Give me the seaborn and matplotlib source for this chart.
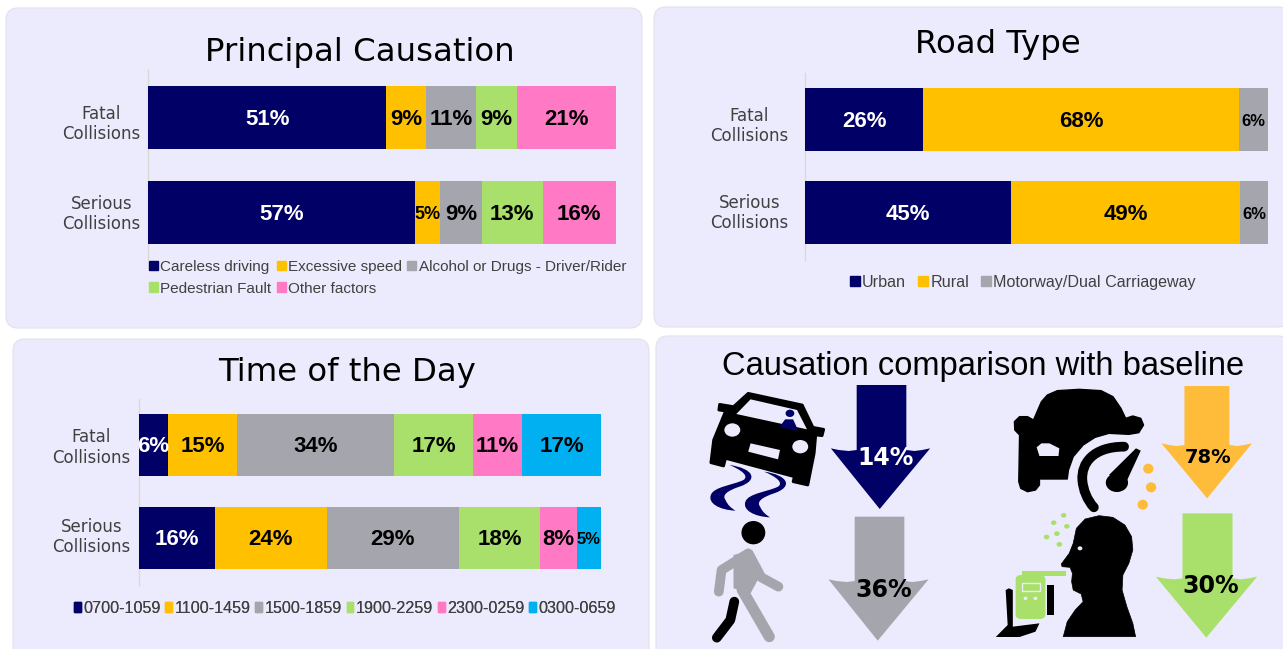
import matplotlib
matplotlib.use("Agg")
import matplotlib.pyplot as plt
import seaborn as sns
import numpy as np
from matplotlib.patches import FancyBboxPatch, Polygon, Circle, Ellipse, PathPatch, Patch, Rectangle
from matplotlib.path import Path
from matplotlib.lines import Line2D
from matplotlib.transforms import ScaledTranslation

sns.set_theme(style="white")
plt.rcParams["font.family"] = ["DejaVu Sans"]

# ---------- data ----------
collision_types = ["Fatal\nCollisions", "Serious\nCollisions"]

cause_names = ["Careless driving", "Excessive speed", "Alcohol or Drugs - Driver/Rider",
               "Pedestrian Fault", "Other factors"]
cause_fatal = [50.9, 8.6, 10.6, 8.8, 21.1]
cause_serious = [57.0, 5.4, 9.0, 12.9, 15.7]
cause_colors = ["#000066", "#FFC000", "#A5A5AD", "#A9E06B", "#FF79C4"]

road_names = ["Urban", "Rural", "Motorway/Dual Carriageway"]
road_fatal = [25.5, 68.2, 6.3]
road_serious = [44.6, 49.4, 6.0]
road_colors = ["#000066", "#FFC000", "#A5A5AD"]

time_names = ["0700-1059", "1100-1459", "1500-1859", "1900-2259", "2300-0259", "0300-0659"]
time_fatal = [6.3, 14.9, 34.0, 17.1, 10.6, 17.1]
time_serious = [16.4, 24.2, 28.6, 17.7, 7.9, 5.2]
time_colors = ["#000066", "#FFC000", "#A5A5AD", "#A9E06B", "#FF79C4", "#00B0F0"]

baseline_labels = ["14%", "78%", "36%", "30%"]
baseline_colors = ["#000066", "#FFBC3A", "#A5A5AD", "#A9E06B"]
baseline_text = ["white", "black", "black", "black"]

PANEL = "#ECEBFD"
W, H = 1283, 649
fig = plt.figure(figsize=(W / 100, H / 100), dpi=100, facecolor="white")

bg = fig.add_axes([0, 0, 1, 1], zorder=0)
bg.set_xlim(0, W)
bg.set_ylim(H, 0)
bg.axis("off")

for (x0, y0, x1, y1) in [(6, 8, 642, 328), (654, 7, 1290, 327), (13, 339, 649, 660), (656, 336, 1290, 660)]:
    bg.add_patch(FancyBboxPatch((x0 + 12, y0 + 12), x1 - x0 - 24, y1 - y0 - 24,
                                boxstyle="round,pad=12,rounding_size=12",
                                fc=PANEL, ec="#E2E2E8", lw=0.8))


def stacked(x0, x1, y0, y1, names, colors, fatal, serious, small_below, small_size,
            title, tx, ty, legend_xy, ncol, order, leg_size, col_space, hlen, tick_pad, tick_dy):
    ax = fig.add_axes([x0 / W, 1 - y1 / H, (x1 - x0) / W, (y1 - y0) / H], zorder=2)
    ax.patch.set_alpha(0)
    rows = np.array([fatal, serious])
    cum = rows.cumsum(axis=1)
    for j in range(len(names) - 1, -1, -1):
        sns.barplot(x=cum[:, j], y=collision_types, order=collision_types, orient="h", color=colors[j],
                    saturation=1, width=0.67, ax=ax, linewidth=0)
    ax.set_xlim(0, 100)
    ax.set_ylim(1.5, -0.5)
    ax.xaxis.set_visible(False)
    for s in ["top", "right", "bottom"]:
        ax.spines[s].set_visible(False)
    ax.spines["left"].set_color("#D9D9D9")
    ax.spines["left"].set_linewidth(1)
    ax.spines["left"].set_zorder(0.5)
    ax.tick_params(axis="y", length=0, pad=tick_pad)
    for t, dy in zip(ax.get_yticklabels(), tick_dy):
        t.set_multialignment("center")
        t.set_fontsize(12)
        t.set_color("#404040")
        t.set_linespacing(1.15)
        t.set_transform(t.get_transform() + ScaledTranslation(0, -dy / 100, fig.dpi_scale_trans))
    for i in range(2):
        left = 0
        for j, v in enumerate(rows[i]):
            fs = small_size if v < small_below else 16
            ax.text(left + v / 2, i + 0.02, f"{round(v)}%", ha="center", va="center",
                    fontsize=fs, fontweight="bold", family="Liberation Sans",
                    color="white" if j == 0 else "black")
            left += v
    bg.text(tx, ty, title, ha="center", va="center", fontsize=23.3, color="black")
    handles = [Patch(color=colors[k], label=names[k]) for k in order]
    leg = bg.legend(handles=handles, ncol=ncol, loc="upper left", bbox_to_anchor=legend_xy,
                    bbox_transform=bg.transData, frameon=False, borderpad=0, borderaxespad=0,
                    prop={"family": "Liberation Sans", "size": leg_size}, labelcolor="#404040",
                    handlelength=hlen, handleheight=0.6, handletextpad=0.15, columnspacing=col_space,
                    labelspacing=0.5)
    bg.add_artist(leg)
    return ax


stacked(148, 616, 70.5, 259.5, cause_names, cause_colors, cause_fatal, cause_serious, 5.6, 13,
        "Principal Causation", 360, 52, (149, 260), 3, [0, 3, 1, 4, 2], 11.0, 0.33, 0.6, 5.4, (3.5, -1))
stacked(805, 1268, 72.5, 259.5, road_names, road_colors, road_fatal, road_serious, 6.4, 12,
        "Road Type", 998, 45, (850, 275), 3, [0, 1, 2], 11.6, 0.75, 0.6, 12, (3.5, -3))
stacked(139, 601, 398.5, 584.5, time_names, time_colors, time_fatal, time_serious, 5.6, 12,
        "Time of the Day", 347, 373, (74, 601), 6, [0, 1, 2, 3, 4, 5], 11.6, 0.3, 0.42, 6, (-0.5, -4))

bg.text(983, 367, "Causation comparison with baseline", ha="center", va="center",
        fontsize=23.5, family="Liberation Sans", color="black")

# ---------- illustration panel, drawn in zoom coordinates of its own region ----------
ic = fig.add_axes([660 / W, 1 - (340 + 309) / H, 623 / W, 309 / H], zorder=3)
ic.set_xlim(0, 1568)
ic.set_ylim(927, 0)
ic.axis("off")


def arrow(sx0, sx1, top, shoulder, hx0, hx1, tipx, tipy, color, label, lx, ly, tc, fs):
    verts = [(sx0, top), (sx1, top), (sx1, shoulder + 5), (sx1 + 20, shoulder + 8), (hx1 - 20, shoulder + 5),
             (hx1, shoulder), (tipx, tipy), (hx0, shoulder), (hx0 + 20, shoulder + 5), (sx0 - 20, shoulder + 8),
             (sx0, shoulder + 5)]
    ic.add_patch(Polygon(verts, closed=True, fc=color, ec="none"))
    ic.text(lx, ly, label, ha="center", va="center", fontsize=fs, fontweight="bold", color=tc)


arrow(495, 620, 135, 325, 430, 680, 553, 507, baseline_colors[0], baseline_labels[0], 568, 355, baseline_text[0], 17)
arrow(1320, 1433, 138, 310, 1262, 1490, 1377, 475, baseline_colors[1], baseline_labels[1], 1380, 352, baseline_text[1], 14)
arrow(490, 615, 530, 718, 424, 676, 548, 902, baseline_colors[2], baseline_labels[2], 562, 750, baseline_text[2], 17)
arrow(1315, 1441, 520, 710, 1248, 1503, 1375, 893, baseline_colors[3], baseline_labels[3], 1387, 737, baseline_text[3], 17)

# tilted car
ic.add_patch(Polygon([(222, 160), (358, 195), (385, 262), (412, 268), (408, 287), (392, 285), (388, 340),
                      (372, 435), (335, 425), (338, 410), (165, 355), (160, 378), (128, 368), (135, 300),
                      (165, 213), (148, 210), (150, 193), (185, 200)], closed=True,
                     fc="black", ec="black", lw=2, joinstyle="round"))
ic.add_patch(Polygon([(228, 178), (345, 210), (370, 268), (192, 222)], closed=True, fc=PANEL, ec="none"))
ic.add_patch(Circle((327, 220), 11, fc="#000066", ec="none"))
ic.add_patch(Polygon([(300, 262), (315, 238), (335, 238), (348, 272)], closed=True, fc="#000066", ec="none"))
ic.add_patch(Circle((182, 270), 20, fc=PANEL, ec="none"))
ic.add_patch(Circle((353, 320), 20, fc=PANEL, ec="none"))
ic.add_patch(Polygon([(228, 310), (302, 330), (297, 358), (222, 335)], closed=True, fc=PANEL, ec="none"))

# skid swirls
swirl = [(175, 375), (235, 385), (250, 420), (200, 440), (170, 452), (155, 465), (165, 480), (170, 495), (180, 505),
         (190, 512), (150, 510), (120, 490), (128, 465), (135, 440), (185, 435), (210, 420), (225, 408), (205, 390),
         (175, 375)]
codes = [Path.MOVETO] + [Path.CURVE4] * 18
for dx, dy in [(0, 0), (87, 20)]:
    ic.add_patch(PathPatch(Path([(x + dx, y + dy) for x, y in swirl], codes), fc="#000066", ec="none"))

# pedestrian
ic.add_patch(Ellipse((235, 578), 60, 70, fc="black", ec="none"))
ic.add_line(Line2D([187, 177, 143], [785, 840, 893], color="black", lw=7, solid_capstyle="round", solid_joinstyle="round"))
ic.add_line(Line2D([222, 155, 148], [640, 690, 755], color="#A5A5AD", lw=7, solid_capstyle="round", solid_joinstyle="round"))
ic.add_line(Line2D([225, 255, 298], [645, 712, 740], color="#A5A5AD", lw=7, solid_capstyle="round", solid_joinstyle="round"))
ic.add_line(Line2D([207, 207, 275], [700, 750, 890], color="#A5A5AD", lw=8, solid_capstyle="round", solid_joinstyle="round"))
ic.add_patch(Polygon([(185, 645), (232, 630), (255, 700), (228, 760), (185, 745)], closed=True, fc="#A5A5AD", ec="none"))

# front car with speedometer
ic.add_patch(Polygon([(960, 185), (975, 165), (1000, 152), (1055, 148), (1110, 152), (1140, 170), (1160, 205), (1172, 235),
                      (1190, 228), (1210, 235), (1217, 255), (1205, 278), (1180, 283), (1130, 280), (1095, 292),
                      (1065, 315), (1040, 350), (1028, 390), (1025, 417), (955, 417), (955, 435), (945, 450),
                      (925, 455), (908, 445), (903, 425), (905, 285), (893, 270), (892, 245), (905, 230),
                      (925, 230), (940, 240)],
                     closed=True, fc="black", ec="black", lw=1, joinstyle="round"))
ic.add_patch(Polygon([(948, 322), (960, 310), (980, 310), (1005, 325), (1003, 348), (955, 348)], closed=True, fc=PANEL, ec="none"))
gauge = [(1168, 320), (1090, 320), (1060, 370), (1063, 420), (1065, 450), (1075, 480), (1092, 502)]
ic.add_patch(PathPatch(Path(gauge, [Path.MOVETO] + [Path.CURVE4] * 6), fc="none", ec="black", lw=7, capstyle="round"))
ic.add_patch(Polygon([(1198, 325), (1210, 332), (1172, 430), (1130, 405)], closed=True, fc="black", ec="none"))
ic.add_patch(Circle((1150, 428), 28, fc="black", ec="none"))
for cx, cy in [(1229, 386), (1236, 442), (1215, 494)]:
    ic.add_patch(Ellipse((cx, cy), 26, 30, fc="#FFBC3A", ec="none"))

# head and breathalyser
ic.add_patch(Polygon([(1105, 527), (1140, 532), (1170, 555), (1187, 590), (1190, 630), (1180, 670), (1165, 705),
                      (1163, 750), (1175, 800), (1190, 850), (1197, 890), (1015, 890), (1025, 845), (1045, 810),
                      (1065, 785), (1060, 762), (1040, 750), (1036, 725), (1038, 700), (1032, 682), (1012, 680),
                      (1010, 672), (1030, 640), (1040, 610), (1048, 565), (1070, 537)],
                     closed=True, fc="black", ec="black", lw=0.5, joinstyle="round"))
ic.add_patch(Circle((1057, 625), 6, fc=PANEL, ec="none"))
for cx, cy in [(1016, 526), (991, 548), (1024, 559), (999, 581), (973, 591), (1005, 613)]:
    ic.add_patch(Circle((cx, cy), 7, fc="#A9E06B", ec="none"))
ic.add_patch(Polygon([(870, 750), (878, 745), (888, 750), (888, 860), (955, 850), (945, 875), (905, 891), (845, 891),
                      (875, 855)], closed=True, fc="black", ec="none"))
ic.add_patch(Rectangle((975, 735), 16, 90, fc="black", ec="none"))
ic.add_patch(FancyBboxPatch((905, 715), 55, 112, boxstyle="round,pad=10,rounding_size=14", fc="#A9E06B", ec="none"))
ic.add_patch(Rectangle((910, 694), 112, 13, fc="#A9E06B", ec="none"))
ic.add_patch(Rectangle((912, 730), 44, 22, fc="#A9E06B", ec=PANEL, lw=1))
for cx in (920, 945):
    ic.add_patch(Circle((cx, 775), 5, fc=PANEL, ec="none"))

fig.savefig("out.png", dpi=100, facecolor="white")
